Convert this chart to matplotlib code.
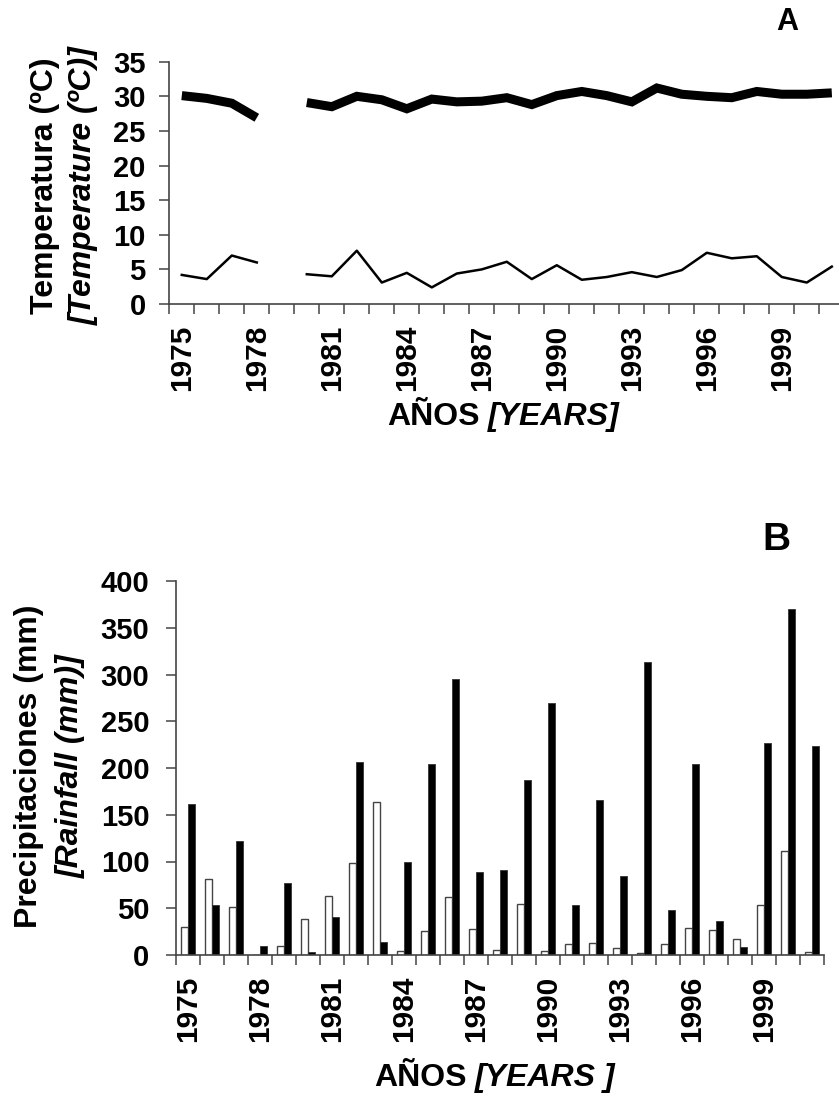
"""
plot.py
=======

Figura de dos paneles: temperaturas (A) y precipitaciones (B) anuales,
1975-2001. Se guarda como out.png.
"""

import numpy as np
import matplotlib

matplotlib.use("Agg")  # backend sin pantalla
import matplotlib.pyplot as plt
from matplotlib.ticker import FixedLocator, FixedFormatter

nan = np.nan

# ----------------------------------------------------------------------
# Datos
# ----------------------------------------------------------------------

years = list(range(1975, 2002))
year_labels = [str(y) if (y - 1975) % 3 == 0 else "" for y in years]

# Panel A: temperatura (1979 sin dato)
temp_high = [30.1, 29.7, 29.0, 26.9, nan, 29.1, 28.5, 30.0, 29.5, 28.2,
             29.6, 29.2, 29.3, 29.8, 28.8, 30.1, 30.7, 30.1, 29.2, 31.2,
             30.3, 30.0, 29.8, 30.7, 30.3, 30.3, 30.5]
temp_low = [4.2, 3.6, 7.0, 6.0, nan, 4.3, 4.0, 7.7, 3.1, 4.5,
            2.4, 4.4, 5.0, 6.1, 3.6, 5.6, 3.5, 3.9, 4.6, 3.9,
            4.9, 7.4, 6.6, 6.9, 3.9, 3.1, 5.4]

# Panel B: precipitaciones
rain_white = [30, 81, 51, 0.5, 10, 39, 63, 98, 164, 4,
              26, 62, 28, 5, 55, 4, 12, 13, 7, 2,
              12, 29, 27, 17, 53, 111, 3]
rain_black = [161, 53, 122, 10, 77, 3, 41, 206, 14, 100,
              204, 295, 89, 91, 187, 270, 53, 166, 84, 313,
              48, 204, 36, 9, 227, 370, 223]

# ----------------------------------------------------------------------
# Estilo
# ----------------------------------------------------------------------

W, H = 839, 1099
DPI = 100
FONT = "Liberation Sans"
SPINE = "#444444"


def px_box(left, right, top, bottom):
    """Caja de ejes en pixeles (origen arriba-izquierda) -> fraccion."""
    return [left / W, (H - bottom) / H, (right - left) / W, (bottom - top) / H]


def style_axes(ax, n, ymax, ystep, ypad):
    x = np.arange(n)
    ax.set_xlim(-0.5, n - 0.5)
    ax.set_ylim(0, ymax)
    for side in ("top", "right"):
        ax.spines[side].set_visible(False)
    for side in ("left", "bottom"):
        ax.spines[side].set_color(SPINE)
        ax.spines[side].set_linewidth(1.2)

    # etiquetas en el centro de la categoria, marcas en los bordes
    ax.xaxis.set_major_locator(FixedLocator(x))
    ax.xaxis.set_major_formatter(FixedFormatter(year_labels))
    ax.xaxis.set_minor_locator(FixedLocator(np.arange(n + 1) - 0.5))
    ax.tick_params(axis="x", which="major", length=0, pad=15)
    ax.tick_params(axis="x", which="minor", length=7, width=1.1,
                   color=SPINE, direction="out")
    ax.tick_params(axis="y", length=7, width=1.1, color=SPINE, pad=ypad)
    ax.set_yticks(np.arange(0, ymax + 1, ystep))
    for lab in ax.get_xticklabels():
        lab.set_rotation(90)
        lab.set_fontsize(21.5)
        lab.set_fontweight("bold")
        lab.set_fontfamily(FONT)
    for lab in ax.get_yticklabels():
        lab.set_fontsize(21)
        lab.set_fontweight("bold")
        lab.set_fontfamily(FONT)


fig = plt.figure(figsize=(W / DPI, H / DPI), dpi=DPI)


def ptext(x, y, s, **kw):
    kw.setdefault("fontfamily", FONT)
    kw.setdefault("fontweight", "bold")
    fig.text(x / W, 1 - y / H, s, **kw)


# ----------------------------------------------------------------------
# Panel A
# ----------------------------------------------------------------------

axA = fig.add_axes(px_box(169.3, 844.3, 61.7, 304))
xa = np.arange(len(years))
axA.plot(xa, temp_high, color="black", linewidth=6.5,
         solid_capstyle="butt", solid_joinstyle="miter")
axA.plot(xa, temp_low, color="black", linewidth=1.8)
style_axes(axA, len(years), 35, 5, ypad=10)

ptext(45, 186, "Temperatura (ºC)", rotation=90, ha="center", va="center",
      fontsize=23)
ptext(84, 186, "[Temperature (ºC)]", rotation=90, ha="center", va="center",
      fontsize=23, style="italic")
ptext(480, 417, "AÑOS", ha="right", va="center", fontsize=23)
ptext(488, 417, "[YEARS]", ha="left", va="center", fontsize=23,
      style="italic")
ptext(787, 22, "A", ha="center", va="center", fontsize=22)

# ----------------------------------------------------------------------
# Panel B
# ----------------------------------------------------------------------

axB = fig.add_axes(px_box(175.7, 823.7, 581, 955))
xb = np.arange(len(years))
bw = 0.29
axB.bar(xb - bw / 2, rain_white, width=bw, color="white",
        edgecolor=SPINE, linewidth=1.0)
axB.bar(xb + bw / 2, rain_black, width=bw, color="black",
        edgecolor="#333333", linewidth=0.6)
style_axes(axB, len(years), 400, 50, ypad=12)

ptext(29, 766, "Precipitaciones (mm)", rotation=90, ha="center",
      va="center", fontsize=23)
ptext(71, 766, "[Rainfall (mm)]", rotation=90, ha="center", va="center",
      fontsize=23, style="italic")
ptext(467, 1078, "AÑOS", ha="right", va="center", fontsize=23)
ptext(475, 1078, "[YEARS ]", ha="left", va="center", fontsize=23,
      style="italic")
ptext(776, 540, "B", ha="center", va="center", fontsize=28)

fig.savefig("out.png", dpi=DPI)
plt.close(fig)
